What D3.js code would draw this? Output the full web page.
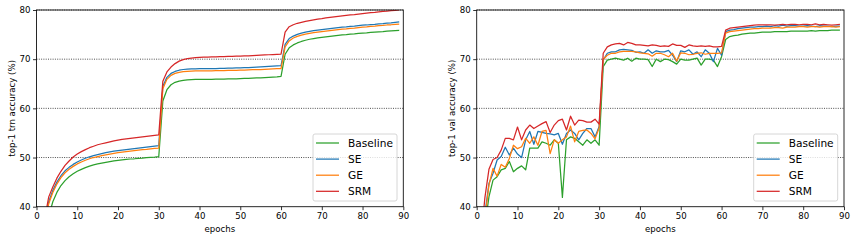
<!DOCTYPE html>
<html>
<head>
<meta charset="utf-8">
<script src="https://cdn.jsdelivr.net/npm/d3@7"></script>
<style>
  body { margin: 0; background: #fff; }
  svg { display: block; font-family: "DejaVu Sans", sans-serif; }
</style>
</head>
<body>
<div id="chart"></div>
<script>
// Series names and colours (matplotlib tab palette)
const seriesNames = ["Baseline", "SE", "GE", "SRM"];
const seriesColors = ["#2ca02c", "#1f77b4", "#ff7f0e", "#d62728"];

const xTicks = [0, 10, 20, 30, 40, 50, 60, 70, 80, 90];
const yTicks = [40, 50, 60, 70, 80];
const gridTicks = [50, 60, 70, 80];

// epochs 0..89
const epochs = d3.range(90);

// top-1 train accuracy
const trnBaseline = [15, 27, 33, 38.0, 41.0, 42.9, 44.3, 45.3, 46.1, 46.7,
  47.2, 47.6, 47.95, 48.25, 48.5, 48.7, 48.85, 49.0, 49.15, 49.3,
  49.4, 49.5, 49.6, 49.7, 49.75, 49.85, 49.9, 50.0, 50.05, 50.1,
  50.2, 61.5, 63.8, 64.8, 65.3, 65.55, 65.7, 65.8, 65.85, 65.9,
  65.9, 65.9, 65.9, 65.9, 65.95, 65.95, 65.95, 66.0, 66.0, 66.0,
  66.05, 66.1, 66.1, 66.15, 66.2, 66.2, 66.25, 66.3, 66.35, 66.4,
  66.5, 71.0, 72.3, 72.9, 73.3, 73.6, 73.85, 74.05, 74.2, 74.35,
  74.45, 74.55, 74.65, 74.75, 74.85, 74.95, 75.0, 75.1, 75.15, 75.25,
  75.3, 75.35, 75.45, 75.5, 75.55, 75.6, 75.7, 75.75, 75.8, 75.85];
const trnSE = [18, 30, 36.5, 41.0, 43.3, 45.0, 46.3, 47.3, 48.0, 48.6,
  49.1, 49.5, 49.85, 50.15, 50.4, 50.6, 50.8, 51.0, 51.15, 51.3,
  51.4, 51.5, 51.6, 51.7, 51.8, 51.9, 52.0, 52.1, 52.2, 52.3,
  52.4, 64.5, 66.3, 67.1, 67.5, 67.75, 67.9, 68.0, 68.05, 68.05,
  68.1, 68.1, 68.1, 68.1, 68.1, 68.15, 68.15, 68.2, 68.2, 68.25,
  68.25, 68.3, 68.3, 68.35, 68.4, 68.45, 68.5, 68.55, 68.6, 68.65,
  68.7, 73.0, 74.2, 74.7, 75.05, 75.3, 75.5, 75.65, 75.8, 75.9,
  76.0, 76.1, 76.2, 76.3, 76.4, 76.5, 76.55, 76.65, 76.7, 76.8,
  76.9, 76.95, 77.05, 77.1, 77.2, 77.25, 77.35, 77.4, 77.5, 77.6];
const trnGE = [17.5, 29.5, 36.0, 40.6, 42.9, 44.6, 45.9, 46.9, 47.6, 48.2,
  48.7, 49.1, 49.45, 49.75, 50.0, 50.2, 50.4, 50.55, 50.7, 50.85,
  51.0, 51.1, 51.2, 51.3, 51.4, 51.5, 51.6, 51.65, 51.75, 51.85,
  51.9, 64.0, 65.9, 66.7, 67.1, 67.3, 67.45, 67.5, 67.55, 67.6,
  67.6, 67.6, 67.6, 67.6, 67.65, 67.65, 67.65, 67.7, 67.7, 67.7,
  67.75, 67.75, 67.8, 67.85, 67.85, 67.9, 67.95, 68.0, 68.05, 68.1,
  68.1, 72.5, 73.7, 74.3, 74.65, 74.9, 75.1, 75.25, 75.4, 75.5,
  75.6, 75.7, 75.8, 75.9, 76.0, 76.1, 76.15, 76.25, 76.3, 76.4,
  76.5, 76.55, 76.65, 76.7, 76.8, 76.85, 76.95, 77.0, 77.1, 77.15];
const trnSRM = [19, 31, 37.5, 42.0, 44.0, 45.8, 47.2, 48.4, 49.3, 50.1,
  50.7, 51.2, 51.6, 52.0, 52.3, 52.6, 52.8, 53.0, 53.2, 53.4,
  53.55, 53.7, 53.8, 53.9, 54.0, 54.1, 54.2, 54.3, 54.4, 54.5,
  54.6, 65.5, 67.4, 68.4, 69.1, 69.6, 69.9, 70.1, 70.2, 70.3,
  70.35, 70.4, 70.4, 70.45, 70.45, 70.5, 70.5, 70.55, 70.55, 70.6,
  70.6, 70.65, 70.65, 70.7, 70.75, 70.8, 70.85, 70.9, 70.95, 71.0,
  71.05, 75.5, 76.6, 77.0, 77.3, 77.5, 77.7, 77.85, 78.0, 78.15,
  78.25, 78.4, 78.5, 78.6, 78.7, 78.8, 78.9, 79.0, 79.05, 79.15,
  79.25, 79.35, 79.45, 79.5, 79.6, 79.7, 79.75, 79.85, 79.9, 80.0];

// top-1 val accuracy
const valBaseline = [18, 27, 36.0, 42.0, 45.4, 46.1, 47.5, 47.8, 49.2, 47.1,
  47.8, 48.3, 47.5, 51.9, 51.9, 51.9, 53.2, 52.9, 52.5, 53.6,
  52.9, 41.9, 53.6, 54.2, 53.9, 53.2, 52.5, 53.6, 52.9, 53.6,
  52.5, 68.5, 69.8, 70.0, 70.2, 70.0, 69.8, 70.2, 69.6, 70.2,
  70.0, 70.0, 69.9, 68.5, 70.0, 69.5, 70.0, 69.9, 69.5, 69.0,
  70.0, 69.8, 69.8, 70.0, 70.2, 68.8, 70.0, 70.0, 69.8, 68.5,
  70.5, 74.0, 74.6, 74.8, 74.9, 75.1, 75.2, 75.3, 75.3, 75.4,
  75.5, 75.5, 75.5, 75.6, 75.6, 75.6, 75.6, 75.7, 75.7, 75.7,
  75.7, 75.7, 75.8, 75.7, 75.8, 75.8, 75.8, 75.9, 75.9, 75.9];
const valSE = [22, 30, 38.5, 44.7, 46.8, 49.5, 50.2, 52.1, 50.5, 51.9,
  50.7, 50.0, 53.6, 55.3, 52.7, 55.3, 55.1, 54.9, 54.8, 54.6,
  54.9, 52.7, 54.9, 55.6, 54.9, 53.6, 54.9, 55.9, 55.9, 54.2,
  56.3, 69.8, 71.2, 71.5, 71.5, 71.9, 72.0, 71.9, 71.8, 71.4,
  71.5, 71.2, 71.9, 71.2, 71.7, 71.5, 71.5, 71.8, 70.8, 69.5,
  71.7, 71.5, 71.9, 71.0, 71.5, 70.5, 71.9, 71.2, 69.5, 72.2,
  70.8, 75.6, 75.9, 76.0, 76.2, 76.3, 76.4, 76.5, 76.5, 76.6,
  76.6, 76.7, 76.6, 76.8, 76.7, 76.9, 76.7, 76.8, 76.8, 76.7,
  76.7, 76.8, 76.7, 76.6, 76.8, 76.7, 76.7, 76.6, 76.7, 76.7];
const valGE = [21, 29, 37.5, 44.4, 47.8, 46.2, 48.6, 48.0, 49.8, 52.5,
  51.8, 52.2, 53.9, 52.9, 54.2, 52.5, 55.3, 55.5, 50.8, 53.6,
  52.9, 53.6, 54.2, 56.4, 53.2, 55.3, 55.5, 55.6, 54.9, 53.8,
  56.0, 70.0, 70.8, 71.2, 71.2, 71.5, 71.6, 71.6, 71.6, 71.5,
  71.3, 71.2, 71.1, 70.6, 71.2, 71.2, 70.9, 70.5, 71.2, 69.6,
  71.3, 71.2, 70.9, 71.0, 71.2, 71.3, 71.0, 71.2, 71.2, 71.2,
  71.3, 75.3, 75.6, 75.7, 75.8, 75.9, 76.0, 76.1, 76.2, 76.2,
  76.3, 76.3, 76.3, 76.4, 76.4, 76.3, 76.5, 76.5, 76.5, 76.6,
  76.6, 76.5, 76.6, 76.6, 76.5, 76.6, 76.6, 76.6, 76.5, 76.6];
const valSRM = [25, 33, 41.8, 47.6, 49.6, 50.0, 51.5, 53.9, 53.9, 53.6,
  56.2, 53.6, 55.6, 56.6, 55.9, 56.4, 56.9, 57.3, 55.1, 56.6,
  57.5, 57.8, 55.6, 58.4, 56.6, 57.6, 57.5, 57.2, 57.2, 57.8,
  56.8, 71.2, 72.5, 72.9, 73.1, 73.2, 72.9, 73.4, 73.2, 72.9,
  72.9, 72.8, 72.7, 72.9, 72.8, 72.6, 72.7, 72.6, 73.1, 72.8,
  72.8, 72.4, 72.9, 72.7, 72.6, 72.7, 72.6, 72.7, 72.5, 72.5,
  72.6, 75.9, 76.3, 76.4, 76.5, 76.6, 76.7, 76.8, 76.9, 77.0,
  77.0, 77.0, 77.0, 76.9, 77.0, 77.1, 77.0, 77.1, 77.1, 77.0,
  77.1, 77.1, 77.0, 77.2, 77.0, 77.1, 77.0, 76.9, 77.0, 77.1];

const W = 856, H = 241;
const svg = d3.select("#chart").append("svg")
    .attr("width", W)
    .attr("height", H);

function drawPanel(id, left, right, yLabel, seriesData) {
    const top = 10, bottom = 206.7;

    const x = d3.scaleLinear().domain([0, 90]).range([left, right]);
    const y = d3.scaleLinear().domain([40, 80]).range([bottom, top]);

    const g = svg.append("g");

    // clip lines to the axes box
    svg.append("clipPath").attr("id", "clip-" + id)
      .append("rect")
        .attr("x", left).attr("y", top)
        .attr("width", right - left).attr("height", bottom - top);

    // dotted horizontal grid
    g.selectAll(".grid")
        .data(gridTicks)
        .enter().append("line")
        .attr("x1", left).attr("x2", right)
        .attr("y1", d => y(d)).attr("y2", d => y(d))
        .attr("stroke", "#222")
        .attr("stroke-width", 0.8)
        .attr("stroke-dasharray", "1,1.3");

    // lines
    const line = d3.line()
        .x((d, i) => x(epochs[i]))
        .y(d => y(d));

    g.append("g")
        .attr("clip-path", `url(#clip-${id})`)
      .selectAll("path")
        .data(seriesData)
        .enter().append("path")
        .attr("d", d => line(d))
        .attr("fill", "none")
        .attr("stroke", (d, i) => seriesColors[i])
        .attr("stroke-width", 1.25)
        .attr("stroke-linejoin", "round");

    // frame
    g.append("rect")
        .attr("x", left).attr("y", top)
        .attr("width", right - left).attr("height", bottom - top)
        .attr("fill", "none")
        .attr("stroke", "#111")
        .attr("stroke-width", 0.9);

    // axes
    g.append("g")
        .attr("transform", `translate(0,${bottom})`)
        .call(d3.axisBottom(x).tickValues(xTicks).tickSize(3.5).tickPadding(2.5))
        .call(a => a.select(".domain").remove());

    g.append("g")
        .attr("transform", `translate(${left},0)`)
        .call(d3.axisLeft(y).tickValues(yTicks).tickSize(3.5).tickPadding(2.5))
        .call(a => a.select(".domain").remove());

    g.selectAll(".tick text")
        .attr("font-family", "DejaVu Sans")
        .attr("font-size", "8.6px")
        .attr("fill", "#000");
    g.selectAll(".tick line").attr("stroke", "#000").attr("stroke-width", 0.8);

    // axis labels
    g.append("text")
        .attr("x", (left + right) / 2)
        .attr("y", 231.5)
        .attr("text-anchor", "middle")
        .attr("font-size", "8.6px")
        .text("epochs");

    g.append("text")
        .attr("transform", `translate(${left - 21.5},${(top + bottom) / 2}) rotate(-90)`)
        .attr("text-anchor", "middle")
        .attr("font-size", "8.6px")
        .text(yLabel);

    // legend
    const lw = 84, lh = 67;
    const lx = right - 6.3 - lw, ly = bottom - 5.7 - lh;
    const legend = g.append("g").attr("transform", `translate(${lx},${ly})`);
    legend.append("rect")
        .attr("width", lw).attr("height", lh)
        .attr("rx", 2)
        .attr("fill", "#fff").attr("fill-opacity", 0.8)
        .attr("stroke", "#ccc").attr("stroke-width", 0.8);

    const items = legend.selectAll(".legend-item")
        .data(seriesNames)
        .enter().append("g")
        .attr("transform", (d, i) => `translate(0,${9 + i * 16.1})`);

    items.append("line")
        .attr("x1", 3).attr("x2", 26)
        .attr("stroke", (d, i) => seriesColors[i])
        .attr("stroke-width", 1.25);

    items.append("text")
        .attr("x", 35)
        .attr("y", 3.8)
        .attr("font-size", "10.6px")
        .text(d => d);
}

drawPanel("trn", 36.5, 403.3, "top-1 trn accuracy (%)", [trnBaseline, trnSE, trnGE, trnSRM]);
drawPanel("val", 476.7, 844, "top-1 val accuracy (%)", [valBaseline, valSE, valGE, valSRM]);
</script>
</body>
</html>
